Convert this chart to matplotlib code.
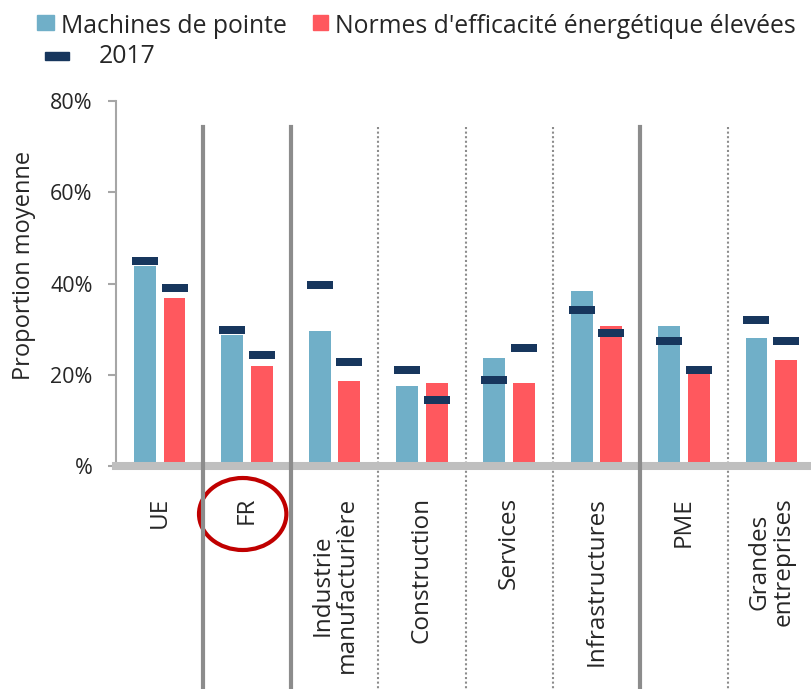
import matplotlib
matplotlib.use("Agg")
import numpy as np
import matplotlib.pyplot as plt
import matplotlib.transforms as mtransforms
from matplotlib.patches import Ellipse, Rectangle

plt.rcParams['font.family'] = ['Open Sans', 'DejaVu Sans']

categories = ['UE', 'FR', 'Industrie\nmanufacturière', 'Construction', 'Services',
              'Infrastructures', 'PME', 'Grandes\nentreprises']
machines = [43.9, 28.8, 29.6, 17.6, 23.7, 38.3, 30.6, 28.0]
normes = [36.8, 22.0, 18.7, 18.1, 18.1, 30.6, 21.1, 23.2]
machines_2017 = [45.0, 29.8, 39.6, 21.1, 18.9, 34.1, 27.5, 32.0]
normes_2017 = [39.1, 24.4, 22.7, 14.4, 25.9, 29.2, 21.1, 27.5]
yticks = [0, 20, 40, 60, 80]
ytick_labels = ['%', '20%', '40%', '60%', '80%']
# group boundaries (after these category indices)
solid_after = [0, 1, 5]
dotted_after = [2, 3, 4, 6]

blue = '#70AFC8'
red = '#FF585E'
navy = '#17365D'
txt = '#262626'

W, H = 812, 689
fig = plt.figure(figsize=(W / 100, H / 100), dpi=100)
ax = fig.add_axes([116 / W, 1 - 466 / H, 699 / W, (466 - 101) / H])

x = np.arange(len(categories))
ax.bar(x - 0.17, machines, 0.25, color=blue, zorder=2)
ax.bar(x + 0.17, normes, 0.25, color=red, zorder=2)
ax.plot(x - 0.17, machines_2017, ls='none', marker='_', ms=26 * 0.72, mew=8 * 0.72, color=navy, zorder=3)
ax.plot(x + 0.17, normes_2017, ls='none', marker='_', ms=26 * 0.72, mew=8 * 0.72, color=navy, zorder=3)

ax.set_xlim(-0.5, len(categories) - 0.5)
ax.set_ylim(0, 80)
ax.set_yticks(yticks)
ax.set_yticklabels(ytick_labels)
ax.set_xticks([])
ax.tick_params(axis='y', length=8 * 0.72, width=1.5, color='#A6A6A6', pad=11,
               labelsize=15.5, labelcolor=txt)
for s in ['top', 'right']:
    ax.spines[s].set_visible(False)
ax.spines['left'].set_color('#A6A6A6')
ax.spines['left'].set_linewidth(1.5)
ax.spines['bottom'].set_color('#BFBFBF')
ax.spines['bottom'].set_linewidth(5.8)
ax.spines['bottom'].set_zorder(4)

trans = mtransforms.blended_transform_factory(ax.transData, fig.transFigure)
top = 1 - 127 / H
for i in solid_after:
    ax.plot([i + 0.5, i + 0.5], [top, 0], transform=trans, clip_on=False,
            color='#8C8C8C', lw=3, zorder=5)
for i in dotted_after:
    ax.plot([i + 0.5, i + 0.5], [top, 0], transform=trans, clip_on=False,
            color='#8C8C8C', lw=1.5, ls=(0, (1, 1.2)), zorder=1)

for i, lab in enumerate(categories):
    ax.text(i, 1 - 497 / H, lab, transform=trans, rotation=90, ha='center', va='top',
            multialignment='center', fontsize=17.5, color=txt, linespacing=1.0)

ax.add_patch(Ellipse((1 - 0.05, 1 - 514 / H), 1.0, 72 / H, transform=trans, fill=False,
                     ec='#C00000', lw=3, clip_on=False))

fig.text(24 / W, 1 - 265 / H, 'Proportion moyenne', rotation=90, ha='center', va='center',
         fontsize=17, color=txt)

# legend
fig.patches.append(Rectangle((37 / W, 1 - 30 / H), 17 / W, 15 / H, transform=fig.transFigure,
                             color=blue))
fig.text(61 / W, 1 - 33 / H, 'Machines de pointe', fontsize=17.8, color=txt, va='baseline')
fig.patches.append(Rectangle((313 / W, 1 - 30 / H), 15 / W, 15 / H, transform=fig.transFigure,
                             color=red))
fig.text(335 / W, 1 - 33 / H, "Normes d'efficacité énergétique élevées", fontsize=17.8,
         color=txt, va='baseline')
fig.patches.append(Rectangle((45 / W, 1 - 60 / H), 24 / W, 8 / H, transform=fig.transFigure,
                             color=navy))
fig.text(99 / W, 1 - 63 / H, '2017', fontsize=17.8, color=txt, va='baseline')

fig.savefig('out.png', dpi=100)
